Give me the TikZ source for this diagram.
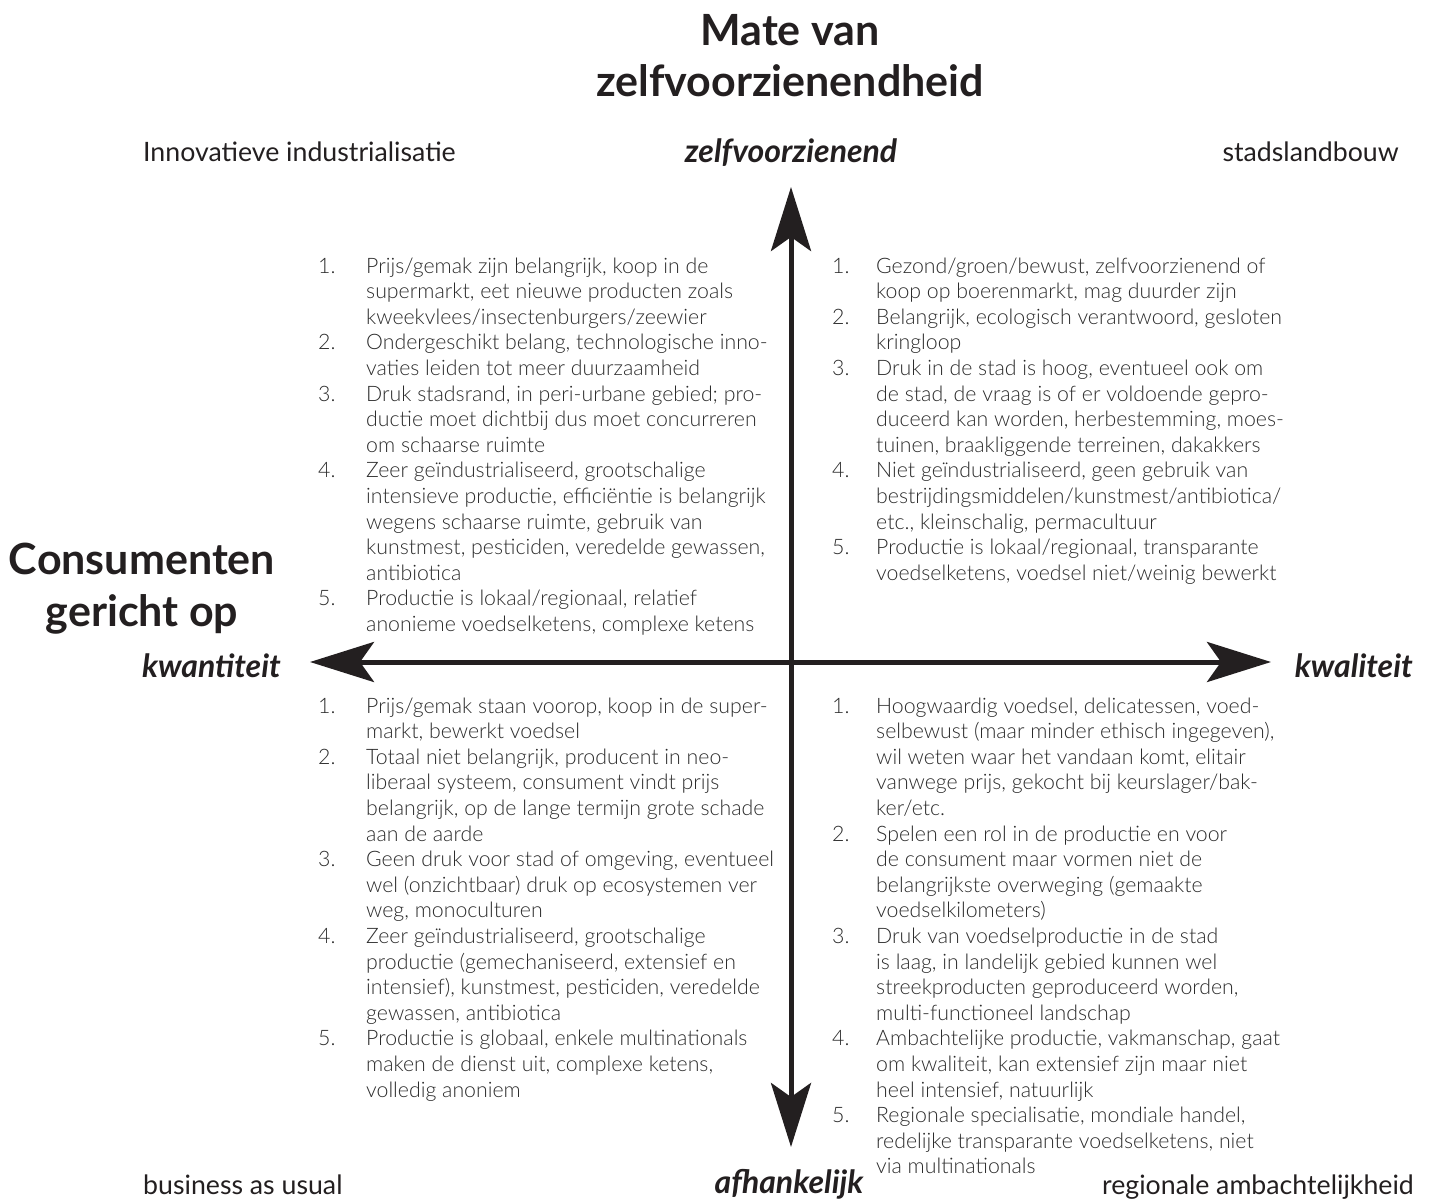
\documentclass[tikz,border=0pt]{standalone}
\usepackage{fontspec}
\setmainfont{Lato}
\newfontfamily\lightfont{Lato Light}
\usetikzlibrary{arrows.meta}
\definecolor{ink}{HTML}{231F20}
\definecolor{txt}{HTML}{2B2B2B}
\begin{document}
\begin{tikzpicture}[x=1pt,y=-1pt,
  title/.style={font=\fontsize{43}{50}\selectfont\bfseries, text=ink, inner sep=0pt},
  pole/.style={font=\fontsize{32}{36}\selectfont\bfseries\itshape, text=ink, inner sep=0pt},
  corner/.style={font=\fontsize{26.7}{30}\selectfont, text=ink, inner sep=0pt},
  qlist/.style={font=\fontsize{21.3}{25.6}\selectfont\lightfont, text=txt, inner sep=0pt, anchor=base west},
  axis/.style={line width=5pt, draw=ink, {Stealth[length=64pt,width=40pt,inset=14pt]}-{Stealth[length=64pt,width=40pt,inset=14pt]}}]
\useasboundingbox (0,0) rectangle (1432,1201);
% titles
\node[title, anchor=base] (t1) at (790,46) {Mate van};
\node[title, anchor=base] (t2) at (790,97) {zelfvoorzienendheid};
\node[title, anchor=base] (c1) at (142,574) {Consumenten};
\node[title, anchor=base] (c2) at (142,626) {gericht op};
% poles
\node[pole, anchor=base] (pz) at (791,163) {zelfvoorzienend};
\node[pole, anchor=base] (pa) at (789,1193) {afhankelijk};
\node[pole, anchor=base east] (pkn) at (281,677) {kwantiteit};
\node[pole, anchor=base east] (pkl) at (1413,677) {kwaliteit};
% corners
\node[corner, anchor=base west] (k1) at (143,162) {Innovatieve industrialisatie};
\node[corner, anchor=base east] (k2) at (1399,162) {stadslandbouw};
\node[corner, anchor=base west] (k3) at (143,1194) {business as usual};
\node[corner, anchor=base east] (k4) at (1414,1194) {regionale ambachtelijkheid};
% axes
\coordinate (top) at (791,187);
\coordinate (bot) at (791,1147);
\coordinate (lft) at (310,662);
\coordinate (rgt) at (1271,662);
\draw[axis] (bot) -- (top);
\draw[axis] (lft) -- (rgt);
% lists
\node[qlist] (ql) at (318,273) {\begin{tabular}[t]{@{}p{48pt}@{}l@{}}
1. & Prijs/gemak zijn belangrijk, koop in de\\
   & supermarkt, eet nieuwe producten zoals\\
   & kweekvlees/insectenburgers/zeewier\\
2. & Ondergeschikt belang, technologische inno-\\
   & vaties leiden tot meer duurzaamheid\\
3. & Druk stadsrand, in peri-urbane gebied; pro-\\
   & ductie moet dichtbij dus moet concurreren\\
   & om schaarse ruimte\\
4. & Zeer geïndustrialiseerd, grootschalige\\
   & intensieve productie, efficiëntie is belangrijk\\
   & wegens schaarse ruimte, gebruik van\\
   & kunstmest, pesticiden, veredelde gewassen,\\
   & antibiotica\\
5. & Productie is lokaal/regionaal, relatief\\
   & anonieme voedselketens, complexe ketens
\end{tabular}};
\node[qlist] (qr) at (832,273) {\begin{tabular}[t]{@{}p{44pt}@{}l@{}}
1. & Gezond/groen/bewust, zelfvoorzienend of\\
   & koop op boerenmarkt, mag duurder zijn\\
2. & Belangrijk, ecologisch verantwoord, gesloten\\
   & kringloop\\
3. & Druk in de stad is hoog, eventueel ook om\\
   & de stad, de vraag is of er voldoende gepro-\\
   & duceerd kan worden, herbestemming, moes-\\
   & tuinen, braakliggende terreinen, dakakkers\\
4. & Niet geïndustrialiseerd, geen gebruik van\\
   & bestrijdingsmiddelen/kunstmest/antibiotica/\\
   & etc., kleinschalig, permacultuur\\
5. & Productie is lokaal/regionaal, transparante\\
   & voedselketens, voedsel niet/weinig bewerkt
\end{tabular}};
\node[qlist] (bl) at (318,713) {\begin{tabular}[t]{@{}p{48pt}@{}l@{}}
1. & Prijs/gemak staan voorop, koop in de super-\\
   & markt, bewerkt voedsel\\
2. & Totaal niet belangrijk, producent in neo-\\
   & liberaal systeem, consument vindt prijs\\
   & belangrijk, op de lange termijn grote schade\\
   & aan de aarde\\
3. & Geen druk voor stad of omgeving, eventueel\\
   & wel (onzichtbaar) druk op ecosystemen ver\\
   & weg, monoculturen\\
4. & Zeer geïndustrialiseerd, grootschalige\\
   & productie (gemechaniseerd, extensief en\\
   & intensief), kunstmest, pesticiden, veredelde\\
   & gewassen, antibiotica\\
5. & Productie is globaal, enkele multinationals\\
   & maken de dienst uit, complexe ketens,\\
   & volledig anoniem
\end{tabular}};
\node[qlist] (br) at (832,713) {\begin{tabular}[t]{@{}p{44pt}@{}l@{}}
1. & Hoogwaardig voedsel, delicatessen, voed-\\
   & selbewust (maar minder ethisch ingegeven),\\
   & wil weten waar het vandaan komt, elitair\\
   & vanwege prijs, gekocht bij keurslager/bak-\\
   & ker/etc.\\
2. & Spelen een rol in de productie en voor\\
   & de consument maar vormen niet de\\
   & belangrijkste overweging (gemaakte\\
   & voedselkilometers)\\
3. & Druk van voedselproductie in de stad\\
   & is laag, in landelijk gebied kunnen wel\\
   & streekproducten geproduceerd worden,\\
   & multi-functioneel landschap\\
4. & Ambachtelijke productie, vakmanschap, gaat\\
   & om kwaliteit, kan extensief zijn maar niet\\
   & heel intensief, natuurlijk\\
5. & Regionale specialisatie, mondiale handel,\\
   & redelijke transparante voedselketens, niet\\
   & via multinationals
\end{tabular}};
\end{tikzpicture}
\end{document}
